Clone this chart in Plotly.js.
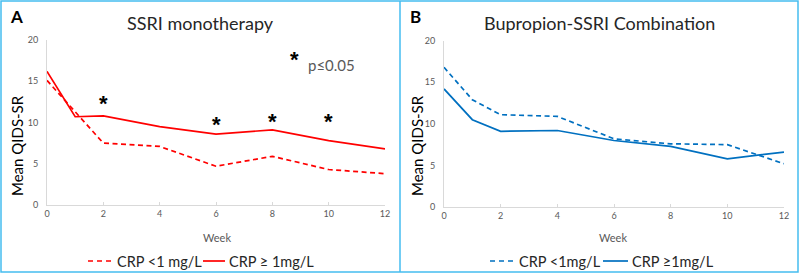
<!DOCTYPE html>
<html>
<head>
<meta charset="utf-8">
<script src="https://cdn.plot.ly/plotly-3.0.1.min.js"></script>
<style>html,body{margin:0;padding:0;background:#fff;}#chart{width:800px;height:274px;}</style>
</head>
<body>
<div id="chart"></div>
<script>
// ---- data ----
const weeks = [0, 1, 2, 4, 6, 8, 10, 12];
const ssriLow  = [15.1, 11.3, 7.5, 7.1, 4.7, 5.9, 4.3, 3.8];
const ssriHigh = [16.2, 10.7, 10.8, 9.5, 8.6, 9.1, 7.8, 6.8];
const comboLow  = [16.8, 12.9, 11.1, 10.9, 8.2, 7.6, 7.5, 5.2];
const comboHigh = [14.2, 10.5, 9.1, 9.2, 8.0, 7.3, 5.8, 6.6];
const starWeeks = [2, 6, 8, 10];
const starLevels = [13.0, 10.5, 10.8, 10.8];
const panelTitles = ["SSRI monotherapy", "Bupropion-SSRI Combination"];
const panelLetters = ["A", "B"];
const legendNamesA = ["CRP &lt;1 mg/L", "CRP ≥ 1mg/L"];
const legendNamesB = ["CRP &lt;1mg/L", "CRP ≥1mg/L"];
const yTitle = "Mean QIDS-SR";
const xTitle = "Week";
const sigNote = "p≤0.05";

const RED = "#ff0000", BLUE = "#0070c0", BORDER = "#45bdf0";
const FONT = "Lato, 'Liberation Sans', sans-serif";
const STARFONT = "'Liberation Sans', Arial, sans-serif";
const DASH = "5px,3.5px";

const traces = [
  {x: weeks, y: ssriLow, xaxis: "x", yaxis: "y", mode: "lines", name: legendNamesA[0],
   line: {color: RED, width: 1.7, dash: DASH}, showlegend: false},
  {x: weeks, y: ssriHigh, xaxis: "x", yaxis: "y", mode: "lines", name: legendNamesA[1],
   line: {color: RED, width: 1.7}, showlegend: false},
  {x: weeks, y: comboLow, xaxis: "x2", yaxis: "y2", mode: "lines", name: legendNamesB[0],
   line: {color: BLUE, width: 1.7, dash: DASH}, showlegend: false},
  {x: weeks, y: comboHigh, xaxis: "x2", yaxis: "y2", mode: "lines", name: legendNamesB[1],
   line: {color: BLUE, width: 1.7}, showlegend: false}
];

function xAxis(domain) {
  return {domain: domain, range: [0, 12], dtick: 2, tick0: 0, showgrid: false, zeroline: false,
    showline: true, linecolor: "#d9d9d9", linewidth: 1, ticks: "inside", ticklen: 3,
    tickcolor: "#d9d9d9", tickfont: {family: FONT, size: 9, color: "#595959"}, fixedrange: true};
}
function yAxis(domain, anchor) {
  return {domain: domain, anchor: anchor, range: [0, 20], dtick: 5, tick0: 0, showgrid: false,
    zeroline: false, showline: true, linecolor: "#d9d9d9", linewidth: 1, ticks: "",
    ticklabelstandoff: 6, tickfont: {family: FONT, size: 9, color: "#595959"}, fixedrange: true};
}

const annotations = [];
const shapes = [
  {type: "rect", xref: "paper", yref: "paper", x0: 1/800, x1: 798/800, y0: 1 - 272/274, y1: 1 - 1/274,
   line: {color: BORDER, width: 1.5}},
  {type: "line", xref: "paper", yref: "paper", x0: 400/800, x1: 400/800, y0: 1 - 272/274, y1: 1 - 1/274,
   line: {color: BORDER, width: 1.5}}
];

// titles & letters
[[200/800, 0], [599.5/800, 1]].forEach(([cx, i]) => {
  annotations.push({xref: "paper", yref: "paper", x: cx, y: 1 - 23/274, text: panelTitles[i],
    showarrow: false, xanchor: "center", yanchor: "middle",
    font: {family: FONT, size: 18, color: "#262626"}});
  annotations.push({xref: "paper", yref: "paper", x: i === 0 ? 8/800 : 408/800, y: 1 - 16/274,
    text: "<b>" + panelLetters[i] + "</b>", showarrow: false, xanchor: "left", yanchor: "middle",
    font: {family: FONT, size: 17, color: "#000"}});
  annotations.push({xref: "paper", yref: "paper", x: i === 0 ? 17/800 : 417/800, y: 1 - 146/274,
    text: yTitle, textangle: -90, showarrow: false, xanchor: "center", yanchor: "middle",
    font: {family: FONT, size: 15, color: "#000"}});
  annotations.push({xref: "paper", yref: "paper", x: i === 0 ? 217/800 : 613/800, y: 1 - 237/274,
    text: xTitle, showarrow: false, xanchor: "center", yanchor: "middle",
    font: {family: FONT, size: 11, color: "#595959"}});
});

// legends (key samples + labels), one row under each panel
const legendRows = [
  {color: RED, names: legendNamesA, lines: [[88, 112], [203, 225]], texts: [115, 227]},
  {color: BLUE, names: legendNamesB, lines: [[490, 513], [603, 628]], texts: [517, 630]}
];
const LEG_Y = 1 - 261/274;
legendRows.forEach(row => {
  [0, 1].forEach(j => {
    shapes.push({type: "line", xref: "paper", yref: "paper",
      x0: row.lines[j][0]/800, x1: row.lines[j][1]/800, y0: LEG_Y, y1: LEG_Y,
      line: {color: row.color, width: 1.7, dash: j === 0 ? "5px,4px" : "solid"}});
    annotations.push({xref: "paper", yref: "paper", x: row.texts[j]/800, y: LEG_Y,
      text: row.names[j], showarrow: false, xanchor: "left", yanchor: "middle",
      font: {family: FONT, size: 14.5, color: "#262626"}});
  });
});

// significance stars
starWeeks.forEach((w, k) => {
  annotations.push({xref: "x", yref: "y", x: w, y: starLevels[k], text: "<b>*</b>",
    showarrow: false, xanchor: "center", yanchor: "middle", yshift: -6,
    font: {family: STARFONT, size: 22, color: "#000"}});
});
annotations.push({xref: "x", yref: "y", x: 8.77, y: 18.4, text: "<b>*</b>", showarrow: false,
  xanchor: "center", yanchor: "middle", yshift: -6, font: {family: STARFONT, size: 22, color: "#000"}});
annotations.push({xref: "paper", yref: "paper", x: 306/800, y: 1 - 65/274, text: sigNote,
  showarrow: false, xanchor: "left", yanchor: "middle", font: {family: FONT, size: 15, color: "#595959"}});

const layout = {
  width: 800, height: 274, margin: {l: 0, r: 0, t: 0, b: 0, autoexpand: false},
  paper_bgcolor: "#fff", plot_bgcolor: "rgba(0,0,0,0)", showlegend: false,
  xaxis: xAxis([47/800, 385/800]),
  yaxis: yAxis([1 - 205/274, 1 - 40/274], "x"),
  xaxis2: Object.assign(xAxis([444/800, 784/800]), {anchor: "y2"}),
  yaxis2: yAxis([1 - 207/274, 1 - 40.7/274], "x2"),
  annotations: annotations, shapes: shapes
};

Plotly.newPlot("chart", traces, layout, {staticPlot: true, displayModeBar: false});
</script>
</body>
</html>
